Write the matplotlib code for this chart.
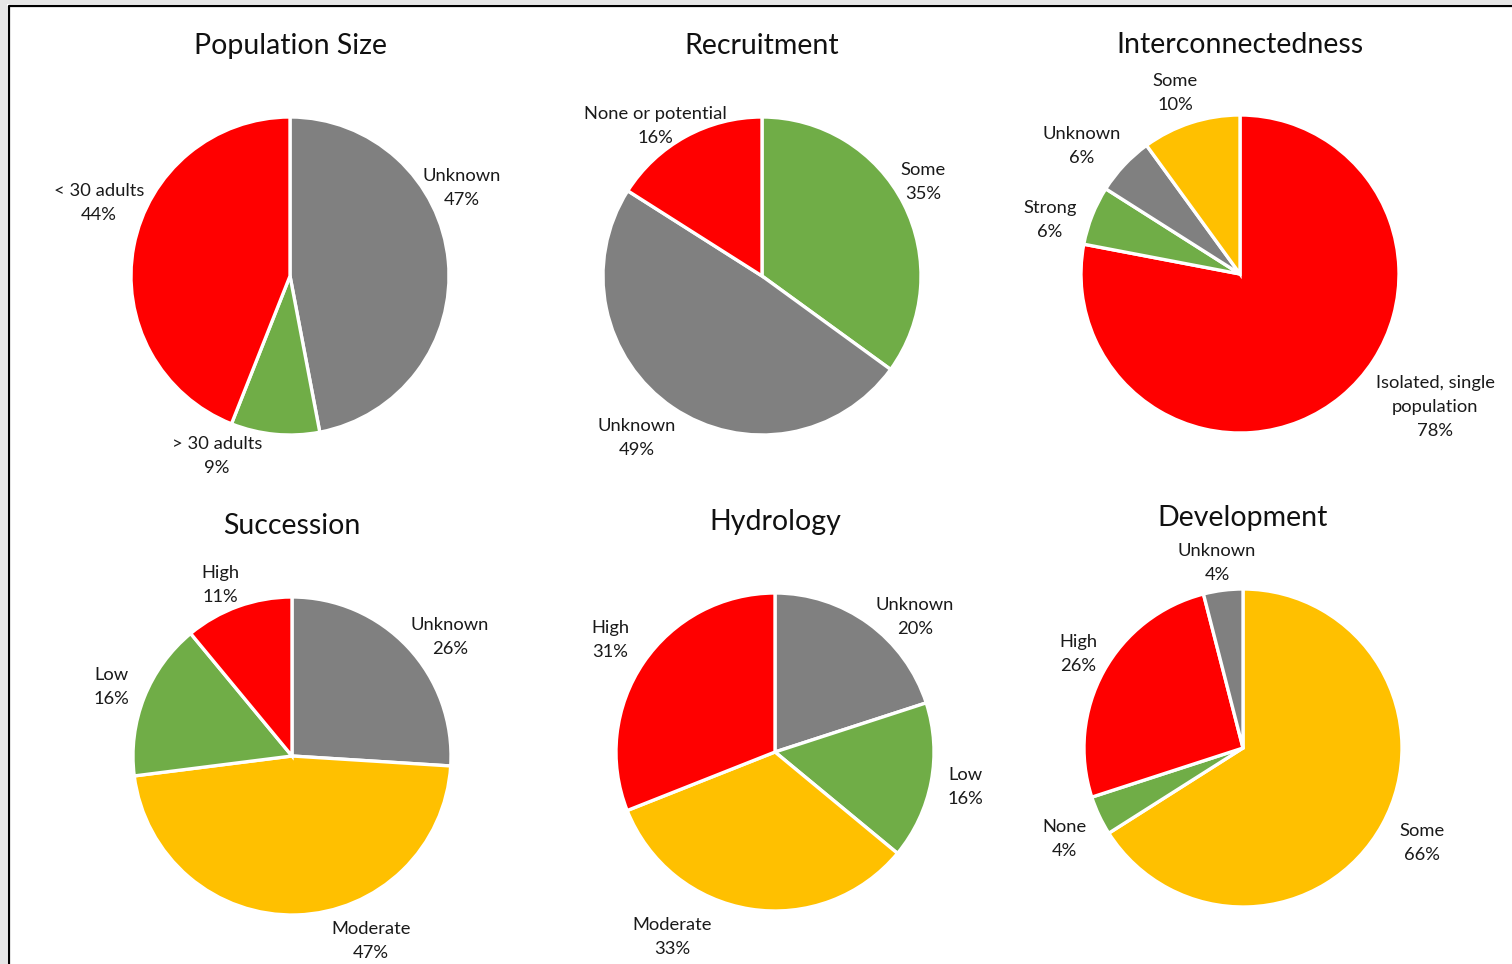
import matplotlib.pyplot as plt
from matplotlib.patches import Rectangle

plt.rcParams['font.family'] = ['Lato', 'DejaVu Sans']

RED = "#FF0000"
GREY = "#808080"
GREEN = "#70AD47"
YELLOW = "#FFC000"

# data, listed clockwise from 12 o'clock
titles = ["Population Size", "Recruitment", "Interconnectedness",
          "Succession", "Hydrology", "Development"]

pop_labels = ["Unknown", "> 30 adults", "< 30 adults"]
pop_values = [47, 9, 44]
pop_colors = [GREY, GREEN, RED]

rec_labels = ["Some", "Unknown", "None or potential"]
rec_values = [35, 49, 16]
rec_colors = [GREEN, GREY, RED]

int_labels = ["Isolated, single\npopulation", "Strong", "Unknown", "Some"]
int_values = [78, 6, 6, 10]
int_colors = [RED, GREEN, GREY, YELLOW]

suc_labels = ["Unknown", "Moderate", "Low", "High"]
suc_values = [26, 47, 16, 11]
suc_colors = [GREY, YELLOW, GREEN, RED]

hyd_labels = ["Unknown", "Low", "Moderate", "High"]
hyd_values = [20, 16, 33, 31]
hyd_colors = [GREY, GREEN, YELLOW, RED]

dev_labels = ["Some", "None", "High", "Unknown"]
dev_values = [66, 4, 26, 4]
dev_colors = [YELLOW, GREEN, RED, GREY]

W, H = 1512, 964
# layout (pixel coords, y measured from top)
centers = [(290, 276), (762, 276), (1240, 274), (292, 756), (775, 752), (1243, 748)]
radius = 159
title_pos = [(290, 46), (762, 46), (1240, 45), (292, 526), (775, 522), (1243, 518)]
label_pos = [
    [(462, 188), (217, 456), (99, 203)],
    [(923, 182), (637, 438), (655, 126)],
    [(1435, 407), (1050, 220), (1082, 146), (1175, 93)],
    [(450, 637), (371, 941), (111, 687), (220, 585)],
    [(915, 617), (965, 787), (672, 937), (610, 640)],
    [(1422, 843), (1064, 839), (1078, 654), (1217, 563)],
]

pies = [(pop_labels, pop_values, pop_colors),
        (rec_labels, rec_values, rec_colors),
        (int_labels, int_values, int_colors),
        (suc_labels, suc_values, suc_colors),
        (hyd_labels, hyd_values, hyd_colors),
        (dev_labels, dev_values, dev_colors)]

fig = plt.figure(figsize=(W / 100, H / 100), dpi=100)
ax = fig.add_axes([0, 0, 1, 1])

for i, (labels, values, colors) in enumerate(pies):
    cx, cy = centers[i]
    ax.pie(values, colors=colors, startangle=90, counterclock=False,
           center=(cx, H - cy), radius=radius,
           wedgeprops=dict(edgecolor="white", linewidth=2.4))
    tx, ty = title_pos[i]
    ax.text(tx, H - ty, titles[i], ha="center", va="center",
            fontsize=20.5, color="#111111")
    for j, lab in enumerate(labels):
        lx, ly = label_pos[i][j]
        ax.text(lx, H - ly, f"{lab}\n{values[j]}%", ha="center", va="center",
                fontsize=13.2, color="#1a1a1a", linespacing=1.62)

# frame of the original screenshot
ax.add_patch(Rectangle((0, 0), 7, H, color="#e6e6e6", lw=0))
ax.add_patch(Rectangle((0, H - 4), W, 4, color="#e6e6e6", lw=0))
ax.plot([8.5, 8.5, W], [0, H - 5.5, H - 5.5], color="black", lw=1.6)

ax.set_xlim(0, W)
ax.set_ylim(0, H)
ax.set_aspect("equal")
ax.axis("off")

fig.savefig("out.png", dpi=100)
